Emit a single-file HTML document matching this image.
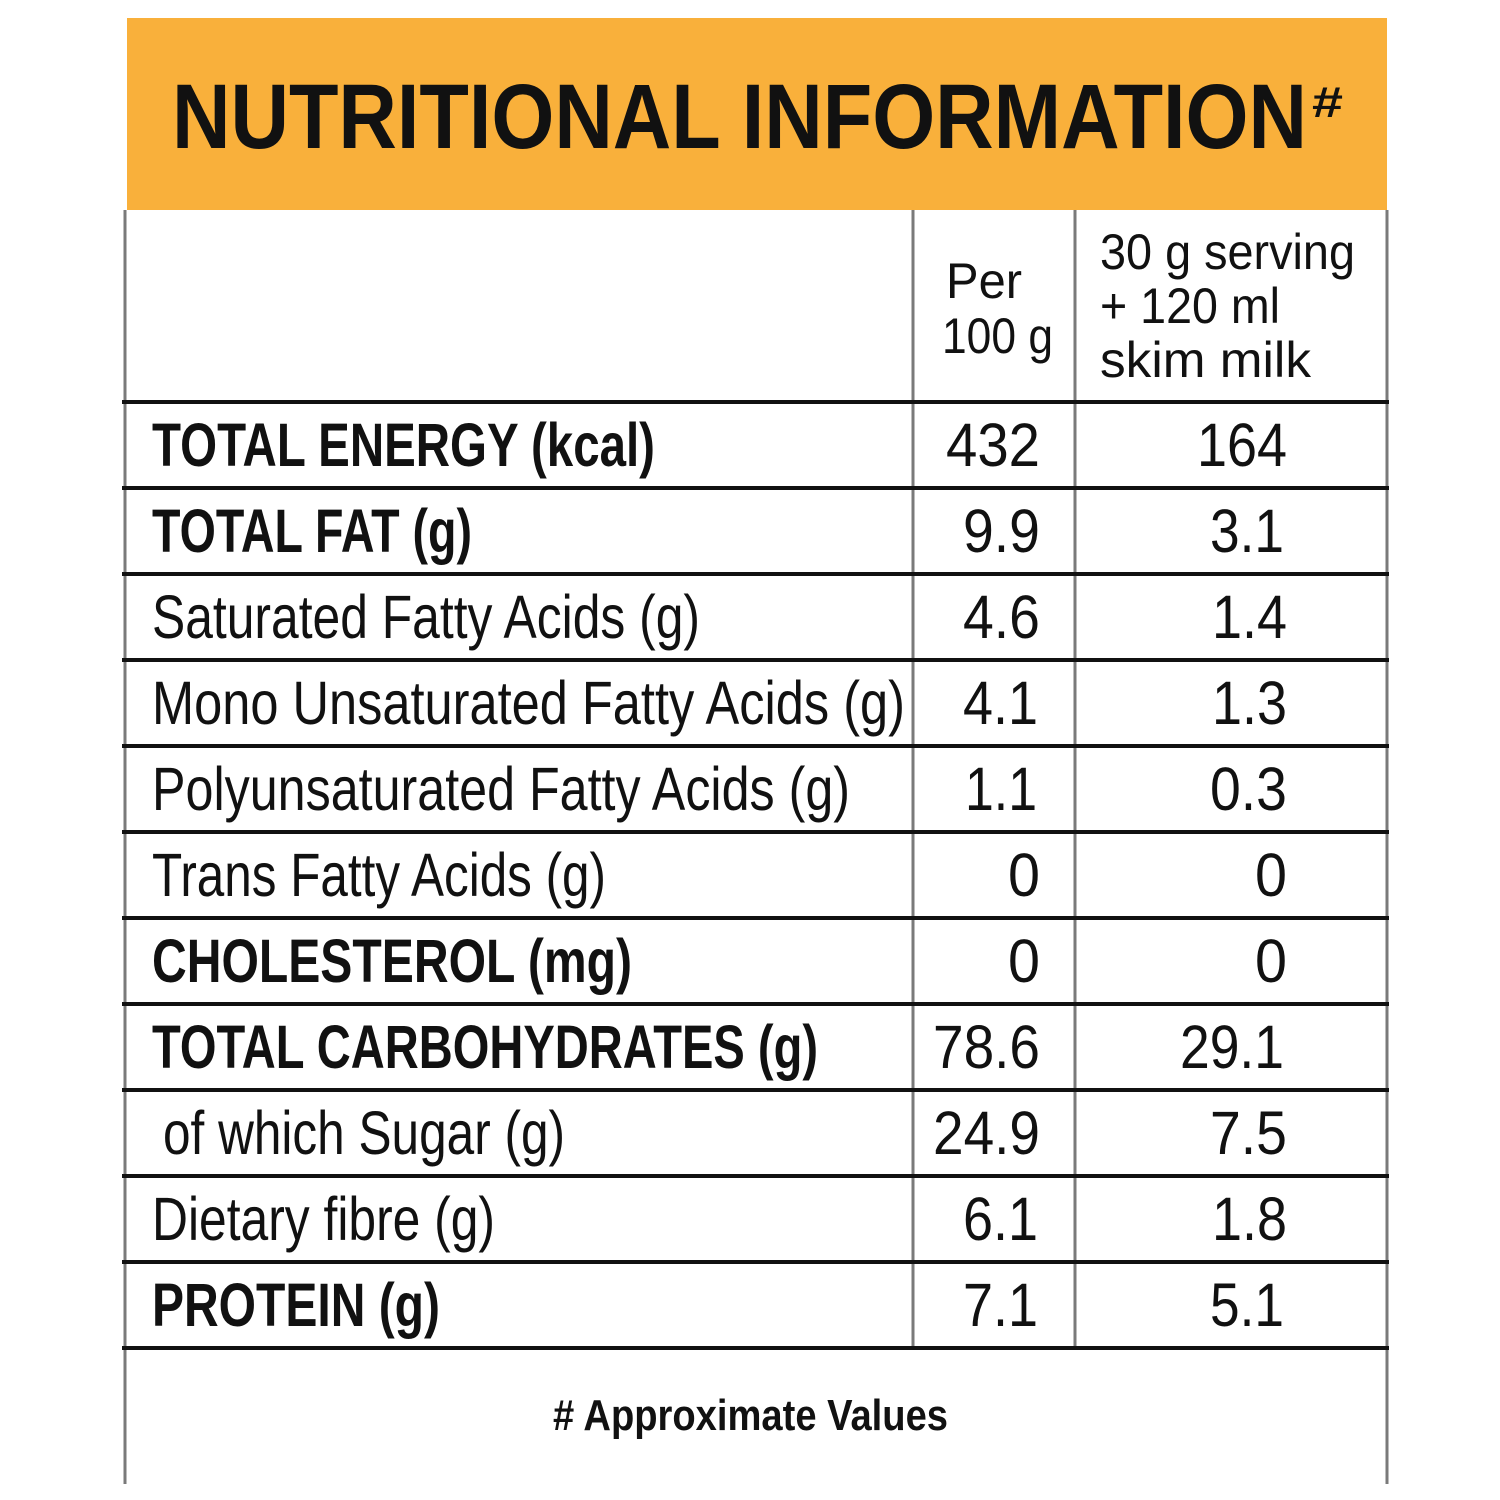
<!DOCTYPE html>
<html><head><style>
html,body{margin:0;padding:0;background:#fff;}
svg{display:block;}
text{font-family:"Liberation Sans",sans-serif;fill:#111;}
.b{font-weight:bold;}
</style></head><body>
<svg width="1500" height="1500" viewBox="0 0 1500 1500" xmlns="http://www.w3.org/2000/svg">
<rect x="0" y="0" width="1500" height="1500" fill="#fff"/>
<rect x="127" y="18" width="1260" height="192" fill="#f9b03b"/>
<text class="b" x="172" y="148" font-size="92" textLength="1135" lengthAdjust="spacingAndGlyphs">NUTRITIONAL INFORMATION</text>
<text class="b" x="1312" y="117" font-size="44" textLength="31" lengthAdjust="spacingAndGlyphs">#</text>

<g stroke="#7a7a7a" stroke-width="3">
<line x1="125" y1="210" x2="125" y2="1484"/>
<line x1="1387" y1="210" x2="1387" y2="1484"/>
<line x1="913" y1="210" x2="913" y2="1347"/>
<line x1="1075" y1="210" x2="1075" y2="1347"/>
</g>
<g stroke="#111" stroke-width="4">
<line x1="122" y1="402" x2="1389" y2="402"/>
<line x1="122" y1="488" x2="1389" y2="488"/>
<line x1="122" y1="574" x2="1389" y2="574"/>
<line x1="122" y1="660" x2="1389" y2="660"/>
<line x1="122" y1="746" x2="1389" y2="746"/>
<line x1="122" y1="832" x2="1389" y2="832"/>
<line x1="122" y1="918" x2="1389" y2="918"/>
<line x1="122" y1="1004" x2="1389" y2="1004"/>
<line x1="122" y1="1090" x2="1389" y2="1090"/>
<line x1="122" y1="1176" x2="1389" y2="1176"/>
<line x1="122" y1="1262" x2="1389" y2="1262"/>
<line x1="122" y1="1348" x2="1389" y2="1348"/>
</g>

<text x="946" y="298" font-size="50" textLength="76" lengthAdjust="spacingAndGlyphs">Per</text>
<text x="942" y="353" font-size="50" textLength="111" lengthAdjust="spacingAndGlyphs">100 g</text>
<text x="1100" y="269" font-size="50" textLength="255" lengthAdjust="spacingAndGlyphs">30 g serving</text>
<text x="1100" y="323" font-size="50" textLength="180" lengthAdjust="spacingAndGlyphs">+ 120 ml</text>
<text x="1100" y="377" font-size="50" textLength="211" lengthAdjust="spacingAndGlyphs">skim milk</text>

<g font-size="61">
<text class="b" x="152" y="466" textLength="503" lengthAdjust="spacingAndGlyphs">TOTAL ENERGY (kcal)</text>
<text class="b" x="152" y="552" textLength="320" lengthAdjust="spacingAndGlyphs">TOTAL FAT (g)</text>
<text x="152" y="638" textLength="548" lengthAdjust="spacingAndGlyphs">Saturated Fatty Acids (g)</text>
<text x="152" y="724" textLength="753" lengthAdjust="spacingAndGlyphs">Mono Unsaturated Fatty Acids (g)</text>
<text x="152" y="810" textLength="698" lengthAdjust="spacingAndGlyphs">Polyunsaturated Fatty Acids (g)</text>
<text x="152" y="896" textLength="454" lengthAdjust="spacingAndGlyphs">Trans Fatty Acids (g)</text>
<text class="b" x="152" y="982" textLength="480" lengthAdjust="spacingAndGlyphs">CHOLESTEROL (mg)</text>
<text class="b" x="152" y="1068" textLength="666" lengthAdjust="spacingAndGlyphs">TOTAL CARBOHYDRATES (g)</text>
<text x="163" y="1154" textLength="402" lengthAdjust="spacingAndGlyphs">of which Sugar (g)</text>
<text x="152" y="1240" textLength="343" lengthAdjust="spacingAndGlyphs">Dietary fibre  (g)</text>
<text class="b" x="152" y="1326" textLength="288" lengthAdjust="spacingAndGlyphs">PROTEIN (g)</text>
</g>

<g font-size="61">
<text x="946" y="466" textLength="94" lengthAdjust="spacingAndGlyphs">432</text><text x="1197" y="466" textLength="90" lengthAdjust="spacingAndGlyphs">164</text>
<text x="963" y="552" textLength="77" lengthAdjust="spacingAndGlyphs">9.9</text><text x="1210" y="552" textLength="74" lengthAdjust="spacingAndGlyphs">3.1</text>
<text x="963" y="638" textLength="77" lengthAdjust="spacingAndGlyphs">4.6</text><text x="1212" y="638" textLength="75" lengthAdjust="spacingAndGlyphs">1.4</text>
<text x="963" y="724" textLength="75" lengthAdjust="spacingAndGlyphs">4.1</text><text x="1212" y="724" textLength="75" lengthAdjust="spacingAndGlyphs">1.3</text>
<text x="965" y="810" textLength="72" lengthAdjust="spacingAndGlyphs">1.1</text><text x="1210" y="810" textLength="77" lengthAdjust="spacingAndGlyphs">0.3</text>
<text x="1008" y="896" textLength="32" lengthAdjust="spacingAndGlyphs">0</text><text x="1255" y="896" textLength="32" lengthAdjust="spacingAndGlyphs">0</text>
<text x="1008" y="982" textLength="32" lengthAdjust="spacingAndGlyphs">0</text><text x="1255" y="982" textLength="32" lengthAdjust="spacingAndGlyphs">0</text>
<text x="933" y="1068" textLength="107" lengthAdjust="spacingAndGlyphs">78.6</text><text x="1180" y="1068" textLength="104" lengthAdjust="spacingAndGlyphs">29.1</text>
<text x="933" y="1154" textLength="107" lengthAdjust="spacingAndGlyphs">24.9</text><text x="1210" y="1154" textLength="77" lengthAdjust="spacingAndGlyphs">7.5</text>
<text x="963" y="1240" textLength="75" lengthAdjust="spacingAndGlyphs">6.1</text><text x="1212" y="1240" textLength="75" lengthAdjust="spacingAndGlyphs">1.8</text>
<text x="963" y="1326" textLength="75" lengthAdjust="spacingAndGlyphs">7.1</text><text x="1210" y="1326" textLength="74" lengthAdjust="spacingAndGlyphs">5.1</text>
</g>

<text class="b" x="553" y="1430" font-size="44" textLength="395" lengthAdjust="spacingAndGlyphs"># Approximate Values</text>
</svg>
</body></html>
